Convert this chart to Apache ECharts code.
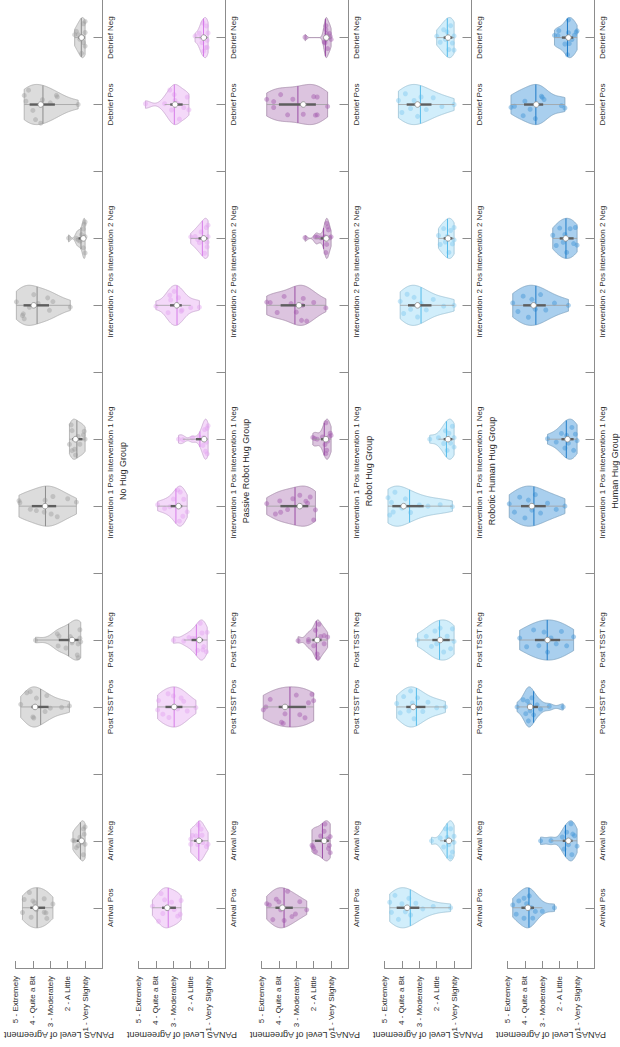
<!DOCTYPE html>
<html><head><meta charset="utf-8">
<script src="https://cdn.jsdelivr.net/npm/echarts@6/dist/echarts.min.js"></script>
<style>html,body{margin:0;padding:0;background:#fff}#c{width:620px;height:1047px}</style>
</head><body><div id="c"></div>
<script>
// ---------- data ----------
const groupNames = ['No Hug Group','Passive Robot Hug Group','Robot Hug Group','Robotic Human Hug Group','Human Hug Group'];
const categoryLabels = ['Arrival Pos','Arrival Neg','Post TSST Pos','Post TSST Neg','Intervention 1 Pos','Intervention 1 Neg','Intervention 2 Pos','Intervention 2 Neg','Debrief Pos','Debrief Neg'];
const categoryPositions = [1,2,4,5,7,8,10,11,13,14];
const tickPositions = [1,2,3,4,5,6,7,8,9,10,11,12,13,14];
const levelValues = [1,2,3,4,5];
const levelLabels = ['1 - Very Slightly','2 - A Little','3 - Moderately','4 - Quite a Bit','5 - Extremely'];
const valueAxisTitle = 'PANAS Level of Agreement';

// each violin: [score, jitter fraction of local half width], in categoryLabels order
const noHugScores = [
 [[4.5,0.6],[4.2,0.85],[4.0,0.35],[3.9,0.25],[3.35,0.5],[2.85,0.35],[4.6,-0.4],[3.35,-0.25],[3.25,-0.3],[3.2,-0.65],[3.8,-0.1],[4.1,-0.5]],
 [[1.1,0.6],[1.05,0.35],[1.7,0.05],[1.6,0.0],[1.2,-0.1],[1.0,-0.2],[1.5,-0.5],[1.1,-0.7],[1.3,0.2],[1.4,-0.3],[1.0,0.8]],
 [[4.35,0.85],[4.15,0.8],[4.7,0.25],[3.2,0.8],[3.8,0.45],[3.95,0.0],[3.0,-0.1],[2.35,-0.05],[1.9,0.2],[4.0,-0.5],[3.95,-0.55],[3.3,-0.3]],
 [[3.85,-0.1],[2.6,0.6],[2.5,0.35],[2.55,-0.55],[2.1,-0.55],[1.75,-0.15],[1.3,0.55],[1.25,-0.1],[1.3,0.1],[1.4,-0.2],[1.45,-0.75],[1.4,-0.9],[1.85,0.2]],
 [[4.8,0.5],[4.75,0.3],[4.15,-0.2],[3.8,-0.25],[3.3,0.3],[3.35,-0.3],[2.85,0.5],[2.95,-0.4],[2.6,-0.6],[2.0,0.6],[1.5,0.5]],
 [[1.8,0.8],[1.75,0.45],[1.05,0.6],[1.1,0.3],[1.4,0.15],[1.0,0.0],[1.9,-0.35],[1.6,-0.5],[1.75,-0.6],[1.55,-0.8],[1.3,-0.3]],
 [[4.95,0.25],[3.95,0.55],[3.15,0.5],[2.85,0.3],[3.05,-0.35],[1.85,-0.35],[4.6,-0.55],[4.5,-0.7],[4.55,-0.45],[3.7,0.1],[4.2,-0.1]],
 [[1.0,0.9],[1.05,0.7],[1.1,0.5],[1.2,0.3],[1.95,0.1],[1.5,0.0],[1.4,-0.2],[1.3,-0.3],[1.1,-0.5],[1.0,-0.8],[1.0,0.1]],
 [[4.5,0.6],[4.25,0.8],[4.4,0.2],[3.45,0.25],[3.85,-0.75],[3.55,-0.95],[2.65,0.7],[2.6,0.6],[1.4,0.0],[4.0,-0.3],[3.0,0.1]],
 [[1.0,0.95],[1.1,0.7],[1.5,0.55],[1.6,0.35],[1.0,0.3],[1.2,0.05],[1.3,-0.1],[1.1,-0.25],[1.0,-0.5],[1.2,-0.8],[1.4,0.2]]
];
const passiveRobotHugScores = [
 [[3.7,0.8],[4.2,0.2],[3.5,0.4],[3.3,-0.05],[2.95,-0.1],[2.55,0.6],[2.6,-0.5],[2.75,-0.55],[3.85,-0.9],[3.4,0.0],[3.1,0.3],[3.6,-0.3]],
 [[1.9,0.4],[1.7,0.3],[2.0,0.15],[2.0,-0.3],[1.1,-0.5],[1.0,-0.4],[1.35,0.3],[1.5,0.0],[1.6,-0.2],[1.3,-0.1],[1.4,0.6],[1.55,0.8]],
 [[3.3,0.7],[3.85,0.5],[3.0,0.55],[2.4,0.35],[2.55,0.5],[2.75,-0.1],[1.7,-0.1],[3.9,-0.25],[3.25,-0.55],[3.6,-0.45],[2.9,0.0],[2.2,-0.3]],
 [[1.45,0.85],[1.05,0.6],[1.35,0.35],[1.9,0.15],[2.4,-0.2],[1.6,-0.6],[1.3,-0.5],[1.25,-0.35],[1.5,0.0],[1.1,-0.8],[2.1,0.3],[1.75,0.1],[3.0,-0.05]],
 [[2.75,0.85],[2.6,0.7],[3.5,-0.3],[3.9,0.3],[3.2,-0.05],[2.65,-0.75],[2.45,-0.55],[2.2,-0.5],[2.7,0.0],[2.4,0.4],[3.0,0.5]],
 [[2.7,0.0],[2.45,-0.1],[1.9,0.4],[1.0,0.85],[1.05,0.6],[1.1,-0.15],[1.15,-0.6],[1.25,0.1],[1.3,-0.4],[1.5,0.3],[1.05,-0.8],[1.2,0.5]],
 [[4.0,-0.2],[3.2,0.6],[3.15,0.3],[2.95,0.7],[2.5,-0.3],[2.55,-0.35],[2.0,-0.3],[1.5,-0.4],[2.8,0.0],[3.3,-0.5],[2.7,0.4]],
 [[2.0,0.3],[1.75,0.2],[1.0,0.75],[1.1,0.55],[1.0,0.1],[1.05,-0.2],[1.05,-0.45],[1.2,-0.75],[1.3,0.0],[1.5,-0.3],[1.4,0.4],[1.6,-0.1]],
 [[4.6,0.2],[3.2,0.9],[3.5,0.1],[2.95,0.5],[2.75,0.05],[2.2,0.6],[2.1,-0.5],[2.65,-0.8],[3.1,-0.3],[2.4,-0.2],[2.9,0.2]],
 [[1.75,0.35],[1.0,0.3],[1.4,0.0],[1.35,-0.3],[1.05,-0.15],[1.15,-0.5],[1.05,-0.55],[1.25,-0.7],[1.1,0.6],[1.3,0.8],[1.5,0.4]]
];
const robotHugScores = [
 [[4.7,0.35],[4.55,0.2],[4.15,0.45],[3.5,0.9],[2.8,0.55],[3.9,-0.1],[3.05,-0.45],[3.25,-0.55],[2.4,-0.3],[4.35,-0.7],[3.7,-0.65],[3.8,0.0],[4.0,0.3]],
 [[1.35,0.85],[1.05,0.25],[1.1,-0.25],[1.15,-0.4],[1.05,-0.7],[2.1,-0.4],[2.05,-0.5],[1.9,-0.8],[2.0,-0.6],[1.5,0.0],[1.4,0.5],[1.6,0.3],[1.2,0.1]],
 [[4.9,-0.25],[4.75,0.0],[3.65,-0.35],[3.85,-0.8],[3.75,-0.85],[2.8,-0.4],[2.3,0.25],[2.1,0.85],[2.0,0.45],[3.65,0.0],[4.5,0.5],[3.0,0.6],[2.5,-0.6]],
 [[1.7,0.8],[1.9,0.55],[1.4,0.35],[1.2,0.4],[2.3,0.05],[2.9,-0.2],[2.3,-0.2],[1.4,-0.3],[1.8,-0.7],[1.75,-0.9],[1.8,0.0],[1.6,0.2],[2.0,-0.4]],
 [[4.7,0.3],[3.95,0.35],[3.9,-0.4],[2.8,0.55],[2.45,0.25],[2.35,0.15],[2.2,0.5],[1.9,-0.25],[2.0,-0.85],[2.8,0.0],[3.5,-0.2],[4.2,-0.6],[3.2,0.4]],
 [[2.05,0.3],[1.95,0.1],[1.8,0.0],[1.3,0.85],[1.05,0.4],[1.0,0.3],[1.2,-0.1],[1.35,-0.3],[1.25,-0.55],[1.3,-0.75],[1.25,0.0],[1.5,0.2],[1.1,0.15]],
 [[4.7,0.35],[4.5,0.25],[3.7,0.6],[2.6,0.35],[2.0,0.2],[3.0,-0.35],[4.1,-0.55],[2.7,-0.75],[2.4,-0.85],[1.3,-0.4],[2.65,0.0],[3.3,0.1]],
 [[2.5,0.25],[1.9,0.3],[1.8,0.25],[1.25,0.75],[1.2,0.6],[1.15,0.5],[1.35,0.1],[1.4,0.05],[1.08,0.05],[1.0,0.2],[1.25,-0.3],[1.3,-0.75],[1.25,0.0],[1.6,0.1]],
 [[4.7,0.45],[4.3,0.2],[4.3,-0.2],[3.5,-0.6],[2.6,-0.5],[2.0,0.4],[1.8,0.4],[1.9,-0.55],[1.8,-0.55],[1.2,-0.15],[2.6,0.0],[3.9,0.6],[3.2,0.3]],
 [[2.5,0.1],[1.3,0.6],[1.3,0.4],[1.1,0.3],[1.25,0.2],[1.0,-0.2],[1.4,-0.35],[1.2,-0.6],[1.15,0.0],[1.3,-0.1],[1.05,0.1],[1.35,-0.3]]
];
const roboticHumanHugScores = [
 [[4.7,0.4],[4.6,-0.3],[4.4,0.7],[4.2,-0.6],[4.0,0.2],[3.8,-0.2],[3.6,0.5],[3.5,-0.4],[3.2,0.3],[2.8,-0.1],[2.2,0.2],[1.2,0.0]],
 [[2.3,0.0],[1.8,0.4],[1.6,-0.5],[1.4,0.2],[1.3,-0.2],[1.2,0.6],[1.1,-0.6],[1.0,0.3],[1.0,-0.1],[1.5,0.8],[1.2,-0.8]],
 [[4.3,0.3],[4.1,-0.4],[3.9,0.6],[3.6,-0.2],[3.4,0.2],[3.3,-0.6],[3.1,0.5],[2.8,-0.3],[2.5,0.4],[2.0,-0.1],[1.5,0.0],[3.5,0.8]],
 [[3.1,0.0],[2.6,0.3],[2.3,-0.4],[2.1,0.5],[2.0,-0.2],[1.8,0.6],[1.6,-0.6],[1.4,0.2],[1.2,-0.5],[1.1,0.7],[1.0,-0.1]],
 [[4.8,0.5],[4.7,-0.5],[4.6,0.2],[4.5,-0.3],[4.4,0.7],[4.0,-0.1],[3.8,0.4],[3.5,-0.4],[3.0,0.1],[2.5,0.0],[1.8,0.2],[1.1,-0.1]],
 [[2.4,0.0],[1.9,0.2],[1.6,-0.3],[1.5,0.5],[1.4,-0.6],[1.3,0.3],[1.2,-0.2],[1.1,0.7],[1.0,-0.5],[1.0,0.1]],
 [[4.1,0.3],[3.9,-0.5],[3.7,0.6],[3.5,-0.2],[3.3,0.4],[3.1,-0.6],[2.9,0.1],[2.6,-0.3],[2.2,0.5],[1.6,-0.1],[1.0,0.0]],
 [[1.9,0.3],[1.8,-0.5],[1.6,0.6],[1.5,-0.2],[1.4,0.1],[1.3,-0.7],[1.2,0.4],[1.1,-0.3],[1.0,0.7],[1.0,-0.1]],
 [[4.2,0.3],[4.0,-0.5],[3.8,0.6],[3.5,-0.2],[3.3,0.2],[3.1,-0.6],[2.9,0.4],[2.6,-0.3],[2.2,0.5],[1.7,-0.2],[1.0,0.0]],
 [[2.0,0.2],[1.8,-0.4],[1.6,0.5],[1.5,-0.1],[1.4,0.3],[1.3,-0.6],[1.2,0.6],[1.1,-0.3],[1.0,0.1],[1.0,-0.8]]
];
const humanHugScores = [
 [[4.7,0.3],[4.35,0.45],[4.05,0.5],[3.75,0.6],[4.5,-0.5],[4.05,-0.55],[3.55,-0.6],[3.4,-0.25],[3.0,-0.5],[2.3,0.0],[3.65,0.0],[3.9,0.2]],
 [[3.1,0.0],[2.5,0.05],[1.85,0.35],[1.75,-0.6],[1.35,0.85],[1.25,0.35],[1.15,0.3],[1.0,-0.45],[1.5,-0.2],[1.6,0.5],[1.3,-0.7]],
 [[4.45,0.0],[4.1,0.6],[3.95,-0.4],[3.85,0.3],[3.8,-0.7],[3.75,0.1],[3.7,-0.2],[3.6,0.5],[3.5,-0.5],[3.3,0.2],[3.1,-0.3],[2.6,0.2],[1.8,0.0]],
 [[4.3,0.2],[3.9,-0.5],[3.5,0.6],[3.2,-0.3],[2.9,0.4],[2.7,-0.6],[2.5,0.1],[2.2,-0.2],[1.9,0.5],[1.6,-0.4],[1.2,0.3]],
 [[4.9,0.2],[4.6,-0.4],[4.3,0.5],[4.0,-0.6],[3.8,0.3],[3.6,-0.2],[3.4,0.6],[3.1,-0.4],[2.7,0.2],[2.2,-0.3],[1.7,0.0]],
 [[2.7,0.1],[2.2,-0.3],[1.9,0.4],[1.7,-0.5],[1.6,0.2],[1.5,-0.2],[1.3,0.6],[1.2,-0.6],[1.1,0.3],[1.0,-0.1]],
 [[4.7,0.2],[4.4,-0.4],[4.1,0.5],[3.8,-0.6],[3.6,0.3],[3.4,-0.2],[3.1,0.6],[2.8,-0.3],[2.3,0.2],[1.5,0.0]],
 [[2.4,0.3],[2.2,-0.5],[2.0,0.6],[1.8,-0.2],[1.7,0.2],[1.6,-0.7],[1.4,0.5],[1.2,-0.3],[1.1,0.7],[1.0,-0.5]],
 [[4.8,-0.3],[4.6,-0.15],[4.1,-0.7],[3.7,-0.25],[3.4,-0.7],[3.05,0.45],[2.9,0.3],[3.0,0.4],[1.9,-0.15],[1.7,-0.5],[3.3,0.0],[4.0,0.2]],
 [[2.3,0.3],[2.05,0.65],[2.1,0.2],[1.5,0.25],[1.15,0.15],[1.0,0.55],[1.05,0.4],[1.45,-0.3],[1.5,0.9],[1.55,-0.9],[1.3,-0.1],[1.7,-0.4]]
];

// ---------- styles ----------
const panelData = [noHugScores, passiveRobotHugScores, robotHugScores, roboticHumanHugScores, humanHugScores];
const panelStyle = [
 {fill:'#dcdcdc', edge:'#a9a9a9', dot:'rgba(150,150,150,0.5)', mean:'#8c8c8c'},
 {fill:'#f4d9f9', edge:'#c6a6ce', dot:'rgba(226,160,240,0.55)', mean:'#d67ce8'},
 {fill:'#dcc4df', edge:'#a68ca9', dot:'rgba(165,95,175,0.6)', mean:'#9a4ea5'},
 {fill:'#d1eefb', edge:'#9cc2d4', dot:'rgba(125,200,240,0.55)', mean:'#55bbea'},
 {fill:'#a9cfee', edge:'#7fa3c0', dot:'rgba(60,145,215,0.55)', mean:'#1f7bc7'}
];
const FONT = 'Liberation Sans, Arial, sans-serif';
const AXIS_COLOR = '#8c8c8c';
const TEXT_COLOR = '#2b2b2b';
const HALF_WIDTH = 0.3;

// ---------- statistics (kernel density as in violin plots) ----------
function quantile(s, p) {
  const n = s.length; const pos = n * p + 0.5;
  if (pos <= 1) return s[0];
  if (pos >= n) return s[n - 1];
  const lo = Math.floor(pos), fr = pos - lo;
  return s[lo - 1] + fr * (s[lo] - s[lo - 1]);
}
function violinStats(points, pos) {
  const vals = points.map(p => p[0]);
  const s = vals.slice().sort((a, b) => a - b);
  const n = s.length;
  const med = quantile(s, 0.5);
  const dev = s.map(v => Math.abs(v - med)).sort((a, b) => a - b);
  let sig = quantile(dev, 0.5) / 0.6745;
  if (!(sig > 0)) sig = (s[n - 1] - s[0]) || 1;
  const bw = sig * Math.pow(4 / (3 * n), 0.2);
  const dens = v => { let d = 0; for (const x of s) { const u = (v - x) / bw; d += Math.exp(-0.5 * u * u); } return d; };
  const lo = s[0], hi = s[n - 1];
  const grid = [], d = [];
  for (let i = 0; i < 100; i++) { const v = lo + (hi - lo) * i / 99; grid.push(v); d.push(dens(v)); }
  const maxD = Math.max.apply(null, d);
  const hwAt = v => dens(v) / maxD * HALF_WIDTH;
  const mean = vals.reduce((a, b) => a + b, 0) / n;
  const q1 = quantile(s, 0.25), q3 = quantile(s, 0.75), iqr = q3 - q1;
  let lw = q1 - 1.5 * iqr, hw = q3 + 1.5 * iqr;
  lw = Math.max(lw, Math.min.apply(null, s.filter(v => v >= lw)));
  hw = Math.min(hw, Math.max.apply(null, s.filter(v => v <= hw)));
  return { pos, grid, hw: d.map(x => x / maxD * HALF_WIDTH), hwAt, mean, median: med, q1, q3, lw, hwk: hw,
           points: points.map(p => [p[0], pos + p[1] * hwAt(p[0])]) };
}

// ---------- option ----------
const grids = [], xAxes = [], yAxes = [], series = [];
panelData.forEach((violins, k) => {
  const st = panelStyle[k];
  const stats = violins.map((pts, i) => violinStats(pts, categoryPositions[i]));
  grids.push({ left: 15.5 + 123 * k, width: 87, top: -26, bottom: 79, outerBoundsMode: 'none', containLabel: false });
  xAxes.push({
    gridIndex: k, type: 'value', min: 0, max: 5, inverse: true, position: 'bottom',
    axisLine: { show: true, lineStyle: { color: AXIS_COLOR, width: 1 } },
    axisTick: { show: true, inside: true, length: 7, customValues: levelValues, lineStyle: { color: AXIS_COLOR } },
    axisLabel: { show: true, customValues: levelValues, rotate: 90, margin: 8, fontSize: 8, fontFamily: FONT, color: TEXT_COLOR,
                 formatter: v => levelLabels[levelValues.indexOf(Math.round(v))] || '' },
    splitLine: { show: false },
    name: valueAxisTitle, nameLocation: 'middle', nameRotate: 180, nameGap: 62, nameMoveOverlap: false,
    nameTextStyle: { fontSize: 9, fontFamily: FONT, color: TEXT_COLOR }
  });
  yAxes.push({
    gridIndex: k, type: 'value', min: 0.1, max: 14.95, position: 'right',
    axisLine: { show: true, lineStyle: { color: AXIS_COLOR, width: 1 } },
    axisTick: { show: true, inside: true, length: 9, customValues: tickPositions, lineStyle: { color: AXIS_COLOR } },
    axisLabel: { show: true, customValues: categoryPositions, rotate: 90, margin: 4, fontSize: 8, fontFamily: FONT, color: TEXT_COLOR,
                 formatter: v => categoryLabels[categoryPositions.indexOf(Math.round(v))] || '' },
    splitLine: { show: false },
    name: groupNames[k], nameLocation: 'middle', nameRotate: 90, nameGap: 16, nameMoveOverlap: false,
    nameTextStyle: { fontSize: 9, fontFamily: FONT, color: TEXT_COLOR }
  });
  // violin bodies
  series.push({
    type: 'custom', xAxisIndex: k, yAxisIndex: k, clip: false, silent: true, z: 1,
    data: stats.map(s => [s.mean, s.pos]), encode: { x: 0, y: 1 },
    renderItem: (params, api) => {
      const s = stats[params.dataIndex];
      const pts = [];
      for (let i = 0; i < s.grid.length; i++) pts.push(api.coord([s.grid[i], s.pos + s.hw[i]]));
      for (let i = s.grid.length - 1; i >= 0; i--) pts.push(api.coord([s.grid[i], s.pos - s.hw[i]]));
      return { type: 'polygon', shape: { points: pts }, style: { fill: st.fill, stroke: st.edge, lineWidth: 0.8 } };
    }
  });
  // jittered data points
  series.push({
    type: 'scatter', xAxisIndex: k, yAxisIndex: k, silent: true, z: 2,
    symbolSize: 5, itemStyle: { color: st.dot, borderWidth: 0 },
    data: [].concat.apply([], stats.map(s => s.points))
  });
  // mean line, whiskers, box, median
  series.push({
    type: 'custom', xAxisIndex: k, yAxisIndex: k, clip: false, silent: true, z: 3,
    data: stats.map(s => [s.median, s.pos]), encode: { x: 0, y: 1 },
    renderItem: (params, api) => {
      const s = stats[params.dataIndex];
      const mw = s.hwAt(s.mean);
      const a = api.coord([s.mean, s.pos - mw]), b = api.coord([s.mean, s.pos + mw]);
      const w1 = api.coord([s.lw, s.pos]), w2 = api.coord([s.hwk, s.pos]);
      const b1 = api.coord([s.q1, s.pos]), b2 = api.coord([s.q3, s.pos]);
      const m = api.coord([s.median, s.pos]);
      return { type: 'group', children: [
        { type: 'line', shape: { x1: a[0], y1: a[1], x2: b[0], y2: b[1] }, style: { stroke: st.mean, lineWidth: 1 } },
        { type: 'line', shape: { x1: w1[0], y1: w1[1], x2: w2[0], y2: w2[1] }, style: { stroke: '#a0a0a0', lineWidth: 0.8 } },
        { type: 'line', shape: { x1: b1[0], y1: b1[1], x2: b2[0], y2: b2[1] }, style: { stroke: '#5e5e5e', lineWidth: 2.4 } },
        { type: 'circle', shape: { cx: m[0], cy: m[1], r: 2.8 }, style: { fill: '#ffffff', stroke: '#8a8a8a', lineWidth: 0.8 } }
      ] };
    }
  });
});

const chart = echarts.init(document.getElementById('c'), null, { renderer: 'svg' });
chart.setOption({
  animation: false,
  backgroundColor: '#ffffff',
  textStyle: { fontFamily: FONT },
  grid: grids, xAxis: xAxes, yAxis: yAxes, series: series
});
</script>
</body></html>
